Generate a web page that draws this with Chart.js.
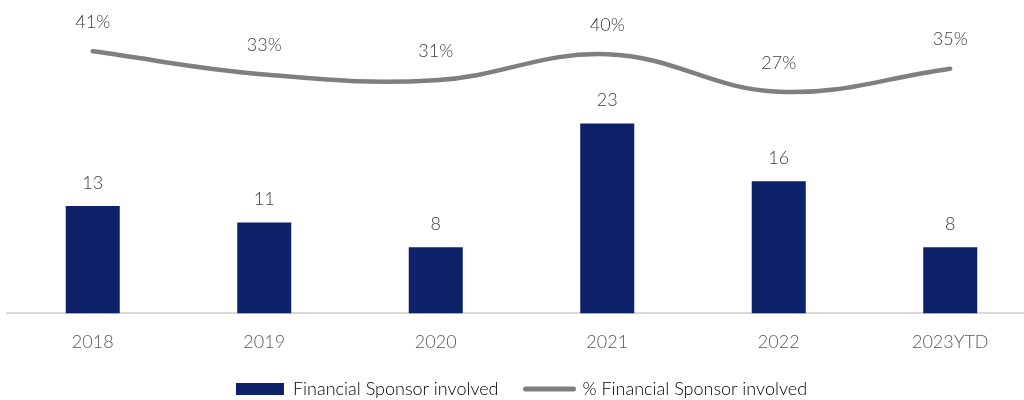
<!DOCTYPE html>
<html>
<head>
<meta charset="utf-8">
<script src="https://cdn.jsdelivr.net/npm/chart.js@4/dist/chart.umd.min.js"></script>
<style>
  html, body { margin: 0; padding: 0; background: #fff; overflow: hidden; }
  #wrap { position: relative; width: 1040px; height: 400px; }
</style>
</head>
<body>
<div id="wrap"><canvas id="combo"></canvas></div>
<script>
const years = ['2018', '2019', '2020', '2021', '2022', '2023YTD'];
const sponsorDeals = [13, 11, 8, 23, 16, 8];
const sponsorShare = [41, 33, 31, 40, 27, 35];
const barLabel = 'Financial Sponsor involved';
const lineLabel = '% Financial Sponsor involved';

const navy = '#0c2168';
const grey = '#7f7f7f';
const textCol = '#404040';

// value labels above bars and line points
const valueLabels = {
  id: 'valueLabels',
  afterDatasetsDraw(chart) {
    const ctx = chart.ctx;
    ctx.save();
    ctx.font = '300 18px Lato';
    ctx.fillStyle = textCol;
    ctx.textAlign = 'center';
    ctx.textBaseline = 'middle';
    chart.data.datasets.forEach((ds, i) => {
      const meta = chart.getDatasetMeta(i);
      meta.data.forEach((el, j) => {
        if (ds.type === 'line') {
          ctx.fillText(ds.data[j] + '%', el.x, el.y - 29);
        } else {
          ctx.fillText(ds.data[j], el.x, el.y - 23);
        }
      });
    });
    ctx.restore();
  }
};

const ctx = document.getElementById('combo').getContext('2d');
new Chart(ctx, {
  data: {
    labels: years,
    datasets: [
      {
        type: 'line',
        label: lineLabel,
        data: sponsorShare,
        yAxisID: 'pct',
        borderColor: grey,
        backgroundColor: grey,
        borderWidth: 4.5,
        tension: 0.4,
        pointRadius: 0,
        borderCapStyle: 'round',
        order: 0
      },
      {
        type: 'bar',
        label: barLabel,
        data: sponsorDeals,
        yAxisID: 'count',
        backgroundColor: navy,
        barPercentage: 0.315,
        categoryPercentage: 1,
        order: 1
      }
    ]
  },
  options: {
    responsive: true,
    maintainAspectRatio: false,
    animation: false,
    layout: { padding: { left: 7, right: 4, top: 8, bottom: -8 } },
    scales: {
      x: {
        grid: { display: false, drawTicks: false },
        border: { color: '#d9d9d9', width: 2 },
        ticks: { color: '#595959', font: { family: 'Lato', size: 18, weight: 300 }, padding: 18 },
        // empty title only keeps room between the ticks and the legend
        title: { display: true, text: '', font: { size: 5 }, padding: { top: 1, bottom: 2 } }
      },
      count: {
        position: 'left',
        min: 0,
        max: 37,
        display: false
      },
      pct: {
        position: 'right',
        min: -49.7,
        max: 56,
        display: false
      }
    },
    plugins: {
      legend: {
        position: 'bottom',
        labels: {
          color: '#595959',
          font: { family: 'Lato', size: 18, weight: 300 },
          usePointStyle: true,
          pointStyleWidth: 48,
          boxHeight: 12,
          padding: 0,
          generateLabels(chart) {
            return [
              { text: barLabel + '\u2003\u2003', fillStyle: navy, strokeStyle: navy, lineWidth: 0, pointStyle: 'rect', datasetIndex: 1 },
              { text: lineLabel, fillStyle: grey, strokeStyle: grey, lineWidth: 5, lineCap: 'round', pointStyle: 'line', datasetIndex: 0 }
            ];
          }
        }
      },
      tooltip: { enabled: false }
    }
  },
  plugins: [valueLabels]
});
</script>
</body>
</html>
